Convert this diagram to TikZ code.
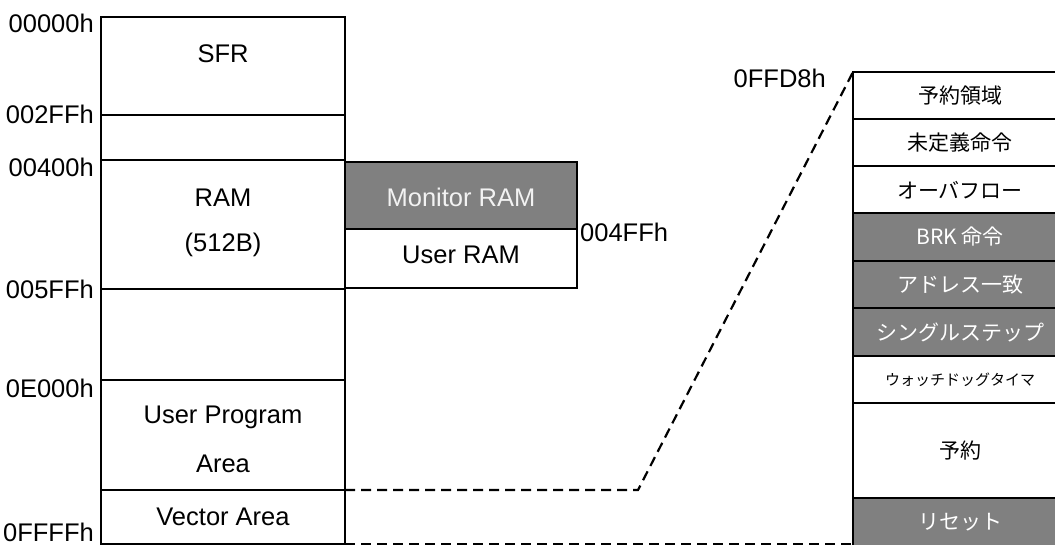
\documentclass[tikz,border=0pt]{standalone}
\usepackage{fontspec}
\setmainfont{Liberation Sans}
\newfontfamily\jp{Noto Sans CJK JP}
\usetikzlibrary{fit}
\begin{document}
\begin{tikzpicture}[x=1pt,y=-1pt,
  box/.style={draw=black, line width=2.2pt, fill=white, inner sep=0pt, outer sep=0pt},
  rbox/.style={box, line width=2.8pt},
  gbox/.style={rbox, fill=boxgray},
  lat/.style={inner sep=0pt, font=\fontsize{25.5}{30}\selectfont},
  addr/.style={lat, anchor=east},
  jpt/.style={inner sep=0pt, font=\jp\fontsize{21}{25}\selectfont},
  jpw/.style={jpt, text=white},
  dashln/.style={line width=2.2pt, dash pattern=on 10pt off 6pt}]
\definecolor{boxgray}{HTML}{808080}
\clip (0,0) rectangle (1055,545);
\fill[white] (0,0) rectangle (1055,545);
% left column
\node[box, fit={(101,17)(345,115)}] (sfr) {};
\node[box, fit={(101,115)(345,160)}] (gap1) {};
\node[box, fit={(101,160)(345,289)}] (ram) {};
\node[box, fit={(101,289)(345,380)}] (gap2) {};
\node[box, fit={(101,380)(345,490)}] (upa) {};
\node[box, fit={(101,490)(345,544)}] (vec) {};
\node[lat] (tsfr) at (223,54) {SFR};
\node[lat] (tram) at (223,198) {RAM};
\node[lat] (tram2) at (223,245) {(512B)};
\node[lat] (tupa) at (223,417) {User Program};
\node[lat] (tupa2) at (223,464) {Area};
\node[lat] (tvec) at (223,517) {Vector Area};
% addresses
\node[addr] (a0) at (94,23) {00000h};
\node[addr] (a1) at (94,114) {002FFh};
\node[addr] (a2) at (94,167) {00400h};
\node[addr] (a3) at (94,289) {005FFh};
\node[addr] (a4) at (94,388) {0E000h};
\node[addr] (a5) at (94,532) {0FFFFh};
% RAM detail
\node[box, fill=boxgray, fit={(345,162)(577,229)}] (mon) {};
\node[box, fit={(345,229)(577,288)}] (uram) {};
\node[lat, text=white!95!black] (tmon) at (461,197) {Monitor RAM};
\node[lat] (turam) at (461,255) {User RAM};
\node[lat, anchor=west] (a6) at (580,232) {004FFh};
% vector detail
\node[rbox, fit={(853,72)(1067,119)}] (r1) {};
\node[rbox, fit={(853,119)(1067,166)}] (r2) {};
\node[rbox, fit={(853,166)(1067,213)}] (r3) {};
\node[gbox, fit={(853,213)(1067,261)}] (r4) {};
\node[gbox, fit={(853,261)(1067,308)}] (r5) {};
\node[gbox, fit={(853,308)(1067,356)}] (r6) {};
\node[rbox, fit={(853,356)(1067,403)}] (r7) {};
\node[rbox, fit={(853,403)(1067,498)}] (r8) {};
\node[gbox, fit={(853,498)(1067,547)}] (r9) {};
\node[jpt] (t1) at (960,96) {予約領域};
\node[jpt] (t2) at (960,143) {未定義命令};
\node[jpt] (t3) at (960,190) {オーバフロー};
\node[jpw] (t4) at (960,237) {BRK 命令};
\node[jpw] (t5) at (960,285) {アドレス一致};
\node[jpw] (t6) at (960,332) {シングルステップ};
\node[jpt, font=\jp\fontsize{15}{18}\selectfont] (t7) at (960,380) {ウォッチドッグタイマ};
\node[jpt] (t8) at (960,451) {予約};
\node[jpw] (t9) at (960,522) {リセット};
\node[lat, anchor=east] (a7) at (826,78) {0FFD8h};
% connectors
\coordinate (bend) at (638,490);
\draw[dashln] (vec.north east) -- (bend) -- (r1.north west);
\draw[dashln] (vec.south east) -- (r9.south west |- vec.south east);
\end{tikzpicture}
\end{document}
